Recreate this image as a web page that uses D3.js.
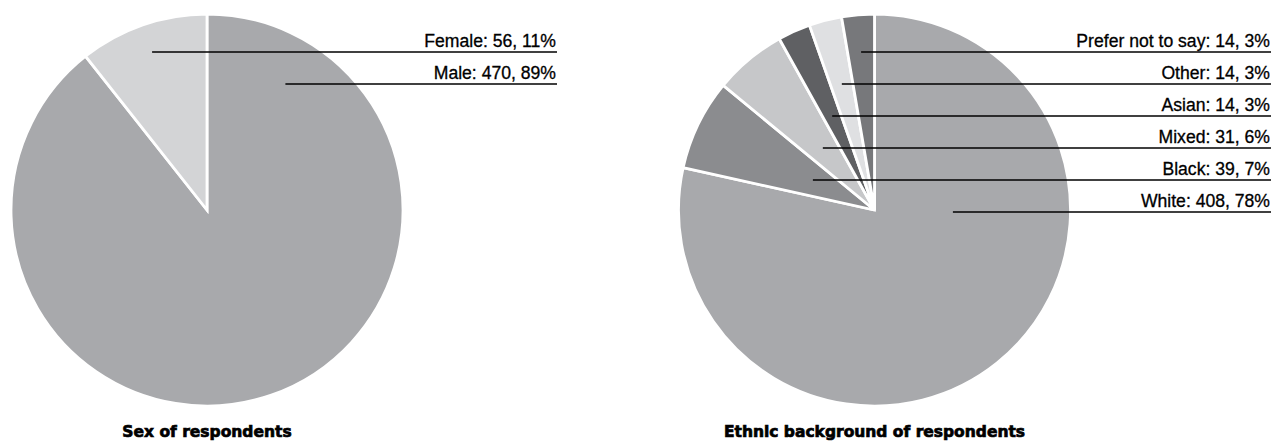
<!DOCTYPE html>
<html>
<head>
<meta charset="utf-8">
<script src="https://cdn.jsdelivr.net/npm/d3@7"></script>
<style>
  html, body { margin: 0; padding: 0; background: #ffffff; }
  svg { display: block; }
</style>
</head>
<body>
<svg id="chart" width="1274" height="441"></svg>
<script>
// ---- Data ----
const sexCategories = ["Male", "Female"];
const sexValues = [470, 56];
const sexPercents = [89, 11];
const sexTitle = "Sex of respondents";

const ethCategories = ["White", "Black", "Mixed", "Asian", "Other", "Prefer not to say"];
const ethValues = [408, 39, 31, 14, 14, 14];
const ethPercents = [78, 7, 6, 3, 3, 3];
const ethTitle = "Ethnic background of respondents";

// ---- Styles ----
const sexColors = ["#a8a9ac", "#d3d4d6"];
const ethColors = ["#a8a9ac", "#8b8c8f", "#c6c7c9", "#5f6063", "#dfe0e2", "#77787b"];

const svg = d3.select("#chart");

function drawPie(opts) {
  const { cx, cy, r, categories, values, percents, colors, title, labelRight } = opts;
  const g = svg.append("g");

  const pie = d3.pie().sort(null).value(d => d.value);
  const data = categories.map((c, i) => ({ name: c, value: values[i], pct: percents[i], color: colors[i] }));
  const arcs = pie(data);
  const arc = d3.arc().innerRadius(0).outerRadius(r);

  g.append("g")
    .attr("transform", `translate(${cx},${cy})`)
    .selectAll("path")
    .data(arcs)
    .join("path")
    .attr("d", arc)
    .attr("fill", d => d.data.color)
    .attr("stroke", "#ffffff")
    .attr("stroke-width", 2.8)
    .attr("stroke-linejoin", "miter");

  // labels: listed top to bottom in reverse slice order
  const rowScale = d3.scaleLinear().domain([0, 1]).range([52, 84]); // row index -> line y
  const ordered = arcs.slice().reverse();
  const lab = g.append("g");
  ordered.forEach((a, i) => {
    const ly = rowScale(i);
    const mid = (a.startAngle + a.endAngle) / 2;
    const dy = ly - cy;
    let ax;
    const cosM = Math.cos(mid);
    if (cosM > 0.2) {
      // intersect mid-angle ray with the label line
      const t = -dy / cosM;
      ax = cx + t * Math.sin(mid);
    } else {
      ax = cx + r * 0.4;
    }
    lab.append("line")
      .attr("x1", ax).attr("x2", labelRight + 1)
      .attr("y1", ly).attr("y2", ly)
      .attr("stroke", "#000").attr("stroke-width", 1.3);
    lab.append("text")
      .attr("x", labelRight)
      .attr("y", ly - 5.5)
      .attr("text-anchor", "end")
      .attr("font-family", "'Liberation Sans', Arial, Helvetica, sans-serif")
      .attr("font-size", 17.6)
      .attr("fill", "#000")
      .attr("stroke", "#000")
      .attr("stroke-width", 0.3)
      .text(`${a.data.name}: ${a.data.value}, ${a.data.pct}%`);
  });

  g.append("text")
    .attr("x", cx)
    .attr("y", 437)
    .attr("text-anchor", "middle")
    .attr("font-family", "'DejaVu Sans', sans-serif")
    .attr("font-weight", "bold")
    .attr("font-size", 15.5)
    .attr("fill", "#000")
    .attr("stroke", "#000")
    .attr("stroke-width", 0.7)
    .text(title);
}

drawPie({ cx: 207, cy: 210, r: 196, categories: sexCategories, values: sexValues, percents: sexPercents,
          colors: sexColors, title: sexTitle, labelRight: 556 });
drawPie({ cx: 874.5, cy: 210, r: 196, categories: ethCategories, values: ethValues, percents: ethPercents,
          colors: ethColors, title: ethTitle, labelRight: 1270 });
</script>
</body>
</html>
